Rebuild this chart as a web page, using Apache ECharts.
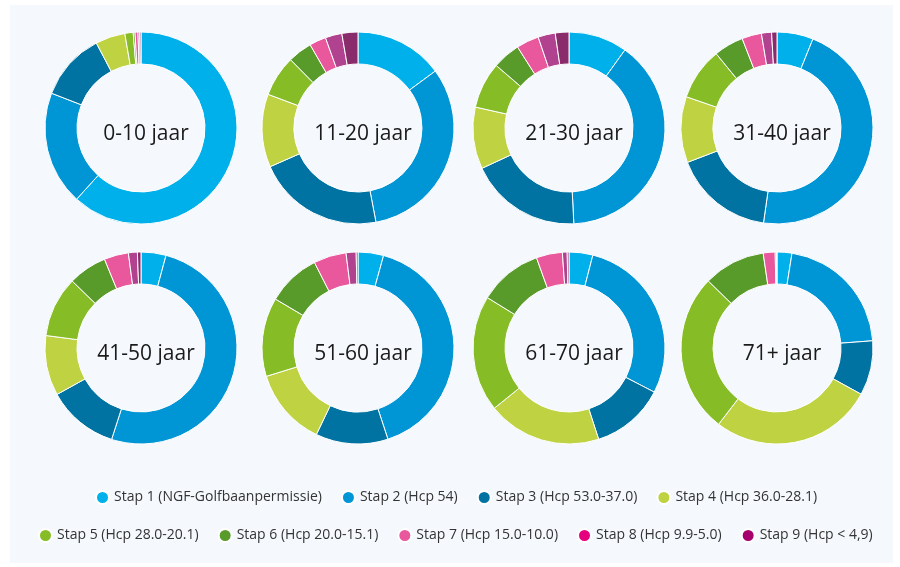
<!DOCTYPE html>
<html>
<head>
<meta charset="utf-8">
<script src="https://cdn.jsdelivr.net/npm/echarts@6/dist/echarts.min.js"></script>
<style>
html, body { margin: 0; padding: 0; background: #ffffff; }
#chart { width: 900px; height: 567px; }
</style>
</head>
<body>
<div id="chart"></div>
<script>
// stappen (legenda)
var stappen = ['Stap 1 (NGF-Golfbaanpermissie)', 'Stap 2 (Hcp 54)', 'Stap 3 (Hcp 53.0-37.0)', 'Stap 4 (Hcp 36.0-28.1)',
	'Stap 5 (Hcp 28.0-20.1)', 'Stap 6 (Hcp 20.0-15.1)', 'Stap 7 (Hcp 15.0-10.0)', 'Stap 8 (Hcp 9.9-5.0)', 'Stap 9 (Hcp < 4,9)'];
var leeftijden = ['0-10 jaar', '11-20 jaar', '21-30 jaar', '31-40 jaar', '41-50 jaar', '51-60 jaar', '61-70 jaar', '71+ jaar'];

// percentages per leeftijdsgroep, stap 1 t/m 9
var jaar0_10  = [61.7, 19.2, 11.4, 5.0, 1.4, 0.3, 0.5, 0.3, 0.2];
var jaar11_20 = [14.9, 32.1, 21.4, 12.3, 6.9, 4.1, 2.8, 2.8, 2.7];
var jaar21_30 = [9.9, 39.3, 18.9, 10.4, 7.8, 4.7, 3.8, 2.9, 2.3];
var jaar31_40 = [6.1, 46.1, 16.9, 11.1, 8.8, 5.0, 3.3, 1.7, 0.9];
var jaar41_50 = [4.2, 50.7, 12.0, 10.1, 10.2, 6.5, 4.1, 1.5, 0.6];
var jaar51_60 = [4.3, 40.7, 12.2, 13.1, 13.3, 9.0, 5.5, 1.7, 0.3];
var jaar61_70 = [4.0, 28.6, 12.4, 19.2, 19.6, 10.7, 4.4, 0.8, 0.3];
var jaar71    = [2.5, 21.3, 9.2, 27.4, 26.9, 10.4, 2.0, 0.2, 0.1];
var alleData = [jaar0_10, jaar11_20, jaar21_30, jaar31_40, jaar41_50, jaar51_60, jaar61_70, jaar71];

var sliceKleuren = ['#00b0eb', '#0095d5', '#0073a3', '#bed242', '#86bc25', '#589b2a', '#e9579c', '#b0428f', '#8a2b6c'];
var legendKleuren = ['#00b0eb', '#0095d5', '#0073a3', '#bed242', '#86bc25', '#589b2a', '#e9579c', '#e6007e', '#a5006b'];

var chart = echarts.init(document.getElementById('chart'));

var centersX = [141, 358, 569, 777];
var centersY = [128, 348];

var series = [];
var titles = [];
for (var i = 0; i < leeftijden.length; i++) {
	var cx = centersX[i % 4];
	var cy = centersY[Math.floor(i / 4)];
	var data = [];
	for (var j = 0; j < stappen.length; j++) {
		data.push({ name: stappen[j], value: alleData[i][j], itemStyle: { color: sliceKleuren[j] } });
	}
	series.push({
		name: leeftijden[i],
		type: 'pie',
		radius: [64, 96],
		center: [cx, cy],
		startAngle: 90,
		clockwise: true,
		avoidLabelOverlap: false,
		label: { show: false },
		labelLine: { show: false },
		itemStyle: { borderColor: '#ffffff', borderWidth: 1 },
		emphasis: { disabled: true },
		data: data
	});
	titles.push({
		text: leeftijden[i],
		left: cx,
		top: cy + 1,
		textAlign: 'center',
		textVerticalAlign: 'middle',
		textStyle: { fontFamily: 'Open Sans', fontSize: 21, fontWeight: 'normal', color: '#1a1a1a' }
	});
}

function legendData(from, to) {
	var arr = [];
	for (var k = from; k < to; k++) {
		arr.push({ name: stappen[k], itemStyle: { color: legendKleuren[k] } });
	}
	return arr;
}

var legendText = { fontFamily: 'Open Sans', fontSize: 14, color: '#333333' };

var option = {
	animation: false,
	graphic: [{
		type: 'rect',
		z: -10,
		shape: { x: 10, y: 5, width: 883, height: 558 },
		style: { fill: '#f5f9fd' }
	}],
	title: titles,
	legend: [{
		data: legendData(0, 4),
		left: 90,
		top: 485,
		icon: 'circle',
		itemWidth: 13,
		itemHeight: 13,
		itemGap: 19,
		selectedMode: false,
		textStyle: legendText
	}, {
		data: legendData(4, 9),
		left: 33,
		top: 523,
		icon: 'circle',
		itemWidth: 13,
		itemHeight: 13,
		itemGap: 19,
		selectedMode: false,
		textStyle: legendText
	}],
	series: series
};

chart.setOption(option);
</script>
</body>
</html>
